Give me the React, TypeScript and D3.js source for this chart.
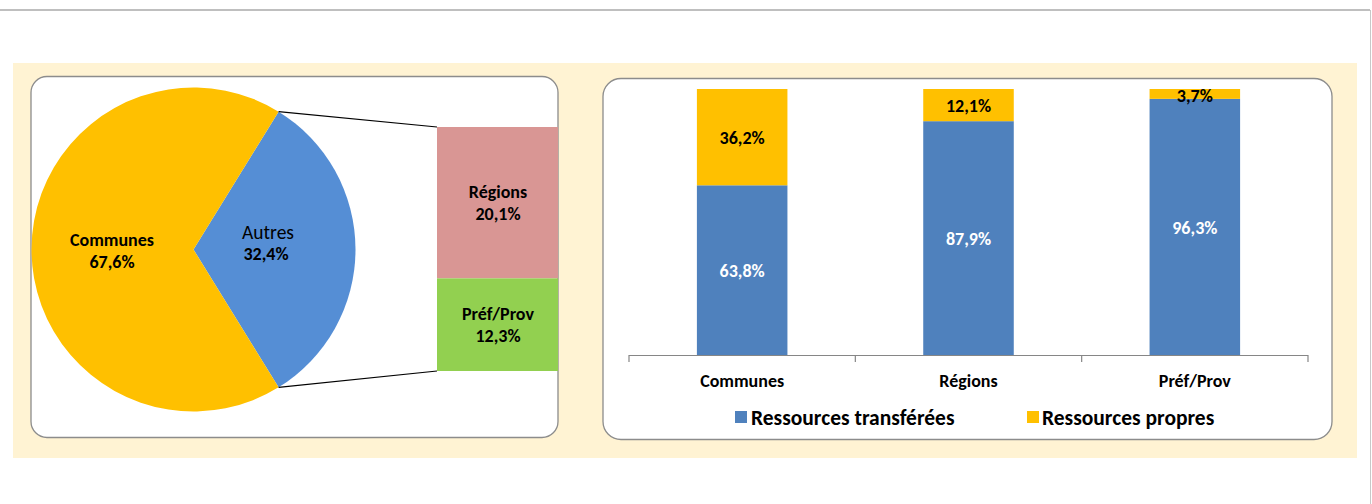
import React from "react";
import * as d3 from "d3";

const pieCategories = ["Autres", "Communes"];
const pieValues = [32.4, 67.6];
const pieColors = ["#558ED5", "#FFC000"];

const breakdownCategories = ["Régions", "Préf/Prov"];
const breakdownValues = [20.1, 12.3];
const breakdownColors = ["#D99694", "#92D050"];

const barCategories = ["Communes", "Régions", "Préf/Prov"];
const transferred = [63.8, 87.9, 96.3];
const own = [36.2, 12.1, 3.7];
const seriesNames = ["Ressources transférées", "Ressources propres"];
const seriesColors = ["#4F81BD", "#FFC000"];

const FONT = "Carlito, 'Liberation Sans Narrow', 'Open Sans', sans-serif";
const fmt = (v: number) => v.toFixed(1).replace(".", ",") + "%";

export default function App() {
  // pie
  const cx = 193.5, cy = 249.5, r = 162;
  const a = (2 * Math.PI * pieValues[0]) / 100;
  const start = Math.PI / 2 - a / 2;
  const arcs = d3.pie<number>().sort(null).startAngle(start).endAngle(start + 2 * Math.PI)(pieValues);
  const arcGen = d3.arc<d3.PieArcDatum<number>>().innerRadius(0).outerRadius(r);
  const pt = (ang: number) => [cx + r * Math.sin(ang), cy - r * Math.cos(ang)];
  const p1 = pt(arcs[0].startAngle);
  const p2 = pt(arcs[0].endAngle);

  // breakdown
  const bx0 = 437, bx1 = 558;
  const by = d3.scaleLinear().domain([0, d3.sum(breakdownValues)]).range([127, 371]);
  let acc = 0;
  const bSegs = breakdownValues.map((v, i) => {
    const s = { y0: by(acc), y1: by(acc + v), v, cat: breakdownCategories[i], color: breakdownColors[i] };
    acc += v;
    return s;
  });

  // bars
  const x = d3.scaleBand<string>().domain(barCategories).range([629, 1308]).paddingInner(0.6).paddingOuter(0.3);
  const y = d3.scaleLinear().domain([0, 100]).range([355, 89]);
  const bw = x.bandwidth();
  const tickXs = [629, ...barCategories.map((c) => (x(c) as number) + bw / 2 + x.step() / 2)];

  return (
    <svg width={1372} height={504} style={{ position: "absolute", left: 0, top: 0, display: "block" }} fontFamily={FONT}>
      <rect x={0} y={0} width={1372} height={504} fill="#ffffff" />
      <line x1={0} y1={10} x2={1370} y2={10} stroke="#bfbfbf" strokeWidth={2} />
      <line x1={1370.5} y1={10} x2={1370.5} y2={504} stroke="#c8c8c8" strokeWidth={1} />
      <rect x={13} y={63} width={1344} height={395} fill="#FFF3D3" />

      {/* left panel */}
      <rect x={31} y={76.5} width={527} height={361} rx={16} fill="#ffffff" stroke="#8c8c8c" strokeWidth={1.3} />
      <g>
        {arcs.map((d, i) => (
          <path key={i} d={arcGen(d) as string} transform={`translate(${cx},${cy})`} fill={pieColors[i]} />
        ))}
      </g>
      <line x1={p1[0]} y1={p1[1]} x2={bx0} y2={bSegs[0].y0} stroke="#000" strokeWidth={1.2} />
      <line x1={p2[0]} y1={p2[1]} x2={bx0} y2={bSegs[bSegs.length - 1].y1} stroke="#000" strokeWidth={1.2} />
      {bSegs.map((s, i) => (
        <g key={i}>
          <rect x={bx0} y={s.y0} width={bx1 - bx0} height={s.y1 - s.y0} fill={s.color} />
          <text x={(bx0 + bx1) / 2 + 0.5} y={(s.y0 + s.y1) / 2 - 5} textAnchor="middle" fontWeight="bold" fontSize={18} fill="#000">{s.cat}</text>
          <text x={(bx0 + bx1) / 2 + 0.5} y={(s.y0 + s.y1) / 2 + 17} textAnchor="middle" fontWeight="bold" fontSize={18} fill="#000">{fmt(s.v)}</text>
        </g>
      ))}
      <text x={112} y={246} textAnchor="middle" fontWeight="bold" fontSize={18} fill="#000">{pieCategories[1]}</text>
      <text x={112} y={268} textAnchor="middle" fontWeight="bold" fontSize={18} fill="#000">{fmt(pieValues[1])}</text>
      <text x={268} y={239} textAnchor="middle" fontSize={19.5} fill="#000">{pieCategories[0]}</text>
      <text x={266} y={260} textAnchor="middle" fontWeight="bold" fontSize={18} fill="#000">{fmt(pieValues[0])}</text>

      {/* right panel */}
      <rect x={603} y={78.5} width={729} height={361} rx={18} fill="#ffffff" stroke="#8c8c8c" strokeWidth={1.3} />
      {barCategories.map((c, i) => {
        const bx = x(c) as number;
        const yT = y(transferred[i]);
        const yO = y(transferred[i] + own[i]);
        return (
          <g key={c}>
            <rect x={bx} y={yT} width={bw} height={y(0) - yT} fill={seriesColors[0]} />
            <rect x={bx} y={yO} width={bw} height={yT - yO} fill={seriesColors[1]} />
            <text x={bx + bw / 2} y={(yT + y(0)) / 2 + 7} textAnchor="middle" fontWeight="bold" fontSize={18} fill="#ffffff">{fmt(transferred[i])}</text>
            <text x={bx + bw / 2} y={Math.max((yO + yT) / 2 + 7, yO + 13)} textAnchor="middle" fontWeight="bold" fontSize={18} fill="#000">{fmt(own[i])}</text>
            <text x={bx + bw / 2} y={387} textAnchor="middle" fontWeight="bold" fontSize={18} fill="#000">{c}</text>
          </g>
        );
      })}
      <line x1={629} y1={355.5} x2={1308} y2={355.5} stroke="#868686" strokeWidth={1.2} />
      {tickXs.map((t, i) => (
        <line key={i} x1={t} y1={355} x2={t} y2={362} stroke="#868686" strokeWidth={1.2} />
      ))}
      <rect x={735} y={411} width={12} height={12} fill={seriesColors[0]} />
      <text x={751} y={425} fontWeight="bold" fontSize={21.5} fill="#000">{seriesNames[0]}</text>
      <rect x={1027} y={411} width={12} height={12} fill={seriesColors[1]} />
      <text x={1042} y={425} fontWeight="bold" fontSize={21.5} fill="#000">{seriesNames[1]}</text>
    </svg>
  );
}
